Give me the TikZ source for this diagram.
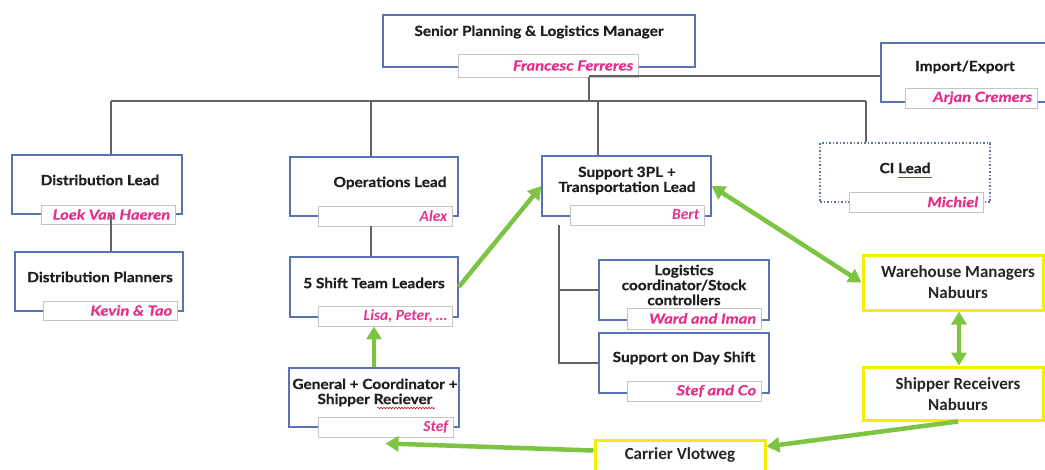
\documentclass[tikz,border=0pt]{standalone}
\usepackage{fontspec}
\setmainfont{Lato}
\newfontfamily\titlef[FakeStretch=1.1, BoldFeatures={FakeBold=0.6}]{Lato}
\newfontfamily\namef[FakeStretch=1.18, BoldItalicFeatures={FakeBold=0.4}]{Lato}
\newfontfamily\calib{Carlito}
\usetikzlibrary{arrows.meta,calc,decorations.pathmorphing}
\definecolor{boxblue}{RGB}{88,114,184}
\definecolor{dotblue}{RGB}{96,112,150}
\definecolor{tagline}{RGB}{196,196,196}
\definecolor{namepink}{RGB}{228,48,138}
\definecolor{connline}{RGB}{100,100,100}
\definecolor{arrowgreen}{RGB}{124,196,66}
\definecolor{markyellow}{RGB}{245,238,0}
\tikzset{
  role/.style={draw=boxblue, line width=1.4pt, fill=white, inner sep=0pt},
  cirole/.style={draw=dotblue, line width=1.5pt, dotted, fill=white, inner sep=0pt},
  yrole/.style={draw=markyellow, line width=3pt, fill=white, inner sep=0pt},
  title/.style={font=\titlef\fontsize{14}{15}\selectfont\bfseries, align=center, text=black!88, inner sep=0pt},
  ytitle/.style={font=\calib\fontsize{17}{21}\selectfont\bfseries, align=center, text=black!85, inner sep=0pt},
  tag/.style={draw=tagline, line width=0.9pt, fill=white, inner sep=0pt},
  who/.style={font=\namef\fontsize{14}{15}\selectfont\bfseries\itshape, text=namepink, anchor=east, inner xsep=5pt, inner ysep=0pt},
  whoc/.style={who, font=\calib\fontsize{15.5}{16}\selectfont\bfseries\itshape},
  conn/.style={draw=connline, line width=1.3pt},
  garrow/.style={draw=arrowgreen, line width=4.5pt, -{Triangle[length=13pt,width=15pt]}},
  gboth/.style={garrow, {Triangle[length=13pt,width=15pt]}-{Triangle[length=13pt,width=15pt]}}
}
\begin{document}
\begin{tikzpicture}[x=1pt,y=-1pt]
\useasboundingbox (0,0) rectangle (1045,469);
\clip (0,0) rectangle (1045,469);

% bus connectors of the chart
\coordinate (hub) at (589,101);
\coordinate (ie) at (589,76);
\coordinate (b1) at (111,101);
\coordinate (b2) at (371,101);
\coordinate (b3) at (598,101);
\coordinate (b4) at (866,101);
\coordinate (sp) at (559,363);

% top level
\node[role, minimum width=312, minimum height=52] (sen) at (539,41) {};
\node[title] (sen-l) at (539,32) {Senior Planning \& Logistics Manager};
\node[tag, minimum width=180, minimum height=23] (sent) at (548,65.5) {};
\node[who] (sen-n) at (sent.east) {Francesc Ferreres};

\node[role, minimum width=180, minimum height=59] (imp) at (971,72.5) {};
\node[title] (imp-l) at (965,67) {Import/Export};
\node[tag, minimum width=132, minimum height=20] (impt) at (971,98) {};
\node[who] (imp-n) at (impt.east) {Arjan Cremers};

\draw[conn] (hub |- sent.south) -- (hub);
\draw[conn] (ie) -- (ie -| imp.west);
\draw[conn] (b4) -- (b1);

% distribution
\node[role, minimum width=170, minimum height=59] (dl) at (97,184.5) {};
\node[title] (dl-l) at (100,180) {Distribution Lead};
\node[tag, minimum width=134, minimum height=19] (dlt) at (108,214.5) {};
\node[who] (dl-n) at (dlt.east) {Loek Van Haeren};

\node[role, minimum width=168, minimum height=59] (dp) at (99,281.5) {};
\node[title] (dp-l) at (100,277) {Distribution Planners};
\node[tag, minimum width=134, minimum height=19] (dpt) at (110,310.5) {};
\node[who] (dp-n) at (dpt.east) {Kevin \& Tao};

\draw[conn] (b1) -- (b1 |- dl.north);
\draw[conn] (b1 |- dl.south) -- (b1 |- dp.north);

% operations
\node[role, minimum width=168, minimum height=59] (ol) at (374,186.5) {};
\node[title] (ol-l) at (390,183) {Operations Lead};
\node[tag, minimum width=134, minimum height=20] (olt) at (385,216) {};
\node[whoc] (ol-n) at (olt.east) {Alex};

\node[role, minimum width=168, minimum height=60] (st) at (374,287) {};
\node[title] (st-l) at (374,283) {5 Shift Team Leaders};
\node[tag, minimum width=134, minimum height=20] (stt) at (385,316) {};
\node[whoc] (st-n) at (stt.east) {Lisa, Peter, \dots};

\node[role, minimum width=170, minimum height=59] (gen) at (374,397.5) {};
\node[title] (gen-l) at (375,392.5) {General + Coordinator +\\Shipper Reciever};
\node[tag, minimum width=135, minimum height=20] (gent) at (385.5,427) {};
\node[whoc] (gen-n) at (gent.east) {Stef};
\draw[red!80!black, line width=0.6pt, decorate, decoration={snake, amplitude=0.7pt, segment length=3pt}] (377,408) -- (435,408);

\draw[conn] (b2) -- (b2 |- ol.north);
\draw[conn] (b2 |- olt.south) -- (b2 |- st.north);

% support 3PL and transport
\node[role, minimum width=169, minimum height=60] (s3) at (626.5,186) {};
\node[title] (s3-l) at (627,180.5) {Support 3PL +\\Transportation Lead};
\node[tag, minimum width=134, minimum height=20] (s3t) at (637,215) {};
\node[whoc] (s3-n) at (s3t.east) {Bert};

\node[role, minimum width=170, minimum height=60] (log) at (684,290) {};
\node[title] (log-l) at (684,285) {Logistics\\coordinator/Stock\\controllers};
\node[tag, minimum width=134, minimum height=21] (logt) at (694,318.5) {};
\node[who] (log-n) at (logt.east) {Ward and Iman};

\node[role, minimum width=170, minimum height=60] (day) at (684,363) {};
\node[title] (day-l) at (684,358) {Support on Day Shift};
\node[tag, minimum width=134, minimum height=20] (dayt) at (694,391) {};
\node[who] (day-n) at (dayt.east) {Stef and Co};

\draw[conn] (b3) -- (b3 |- s3.north);
\draw[conn] (sp |- s3t.south) -- (sp) -- (sp -| day.west);
\draw[conn] (sp |- log.west) -- (log.west);

% continuous improvement
\node[cirole, minimum width=170, minimum height=59] (ci) at (905,172.5) {};
\node[title] (ci-l) at (905,168) {CI Lead};
\draw[blue!55!black!70, line width=0.7pt] (898,177) -- (932,177);
\node[tag, minimum width=134, minimum height=20] (cit) at (916,202) {};
\node[who] (ci-n) at (cit.east) {Michiel};
\draw[conn] (b4) -- (b4 |- ci.north);

% site teams
\node[yrole, minimum width=180, minimum height=55] (wh) at (953,282.5) {};
\node[ytitle] (wh-l) at (958,282.5) {Warehouse Managers\\Nabuurs};
\node[yrole, minimum width=180, minimum height=53] (sh) at (953,393.5) {};
\node[ytitle] (sh-l) at (958,394) {Shipper Receivers\\Nabuurs};
\node[yrole, minimum width=170, minimum height=40] (car) at (680,460) {};
\node[ytitle] (car-l) at (680,455) {Carrier Vlotweg};

% material and information flows
\draw[garrow] (st.east) -- (s3.west);
\draw[gboth] (s3.east) -- (wh.west);
\draw[gboth] ([xshift=6pt]wh.south) -- ([xshift=6pt]sh.north);
\draw[garrow] ([xshift=5pt]sh.south) -- ([yshift=-8pt]car.north east);
\draw[garrow] ([yshift=-12pt]car.north west) -- ([yshift=-6pt]gent.south);
\draw[garrow] (gen.north) -- (gen.north |- stt.south);
\end{tikzpicture}
\end{document}
